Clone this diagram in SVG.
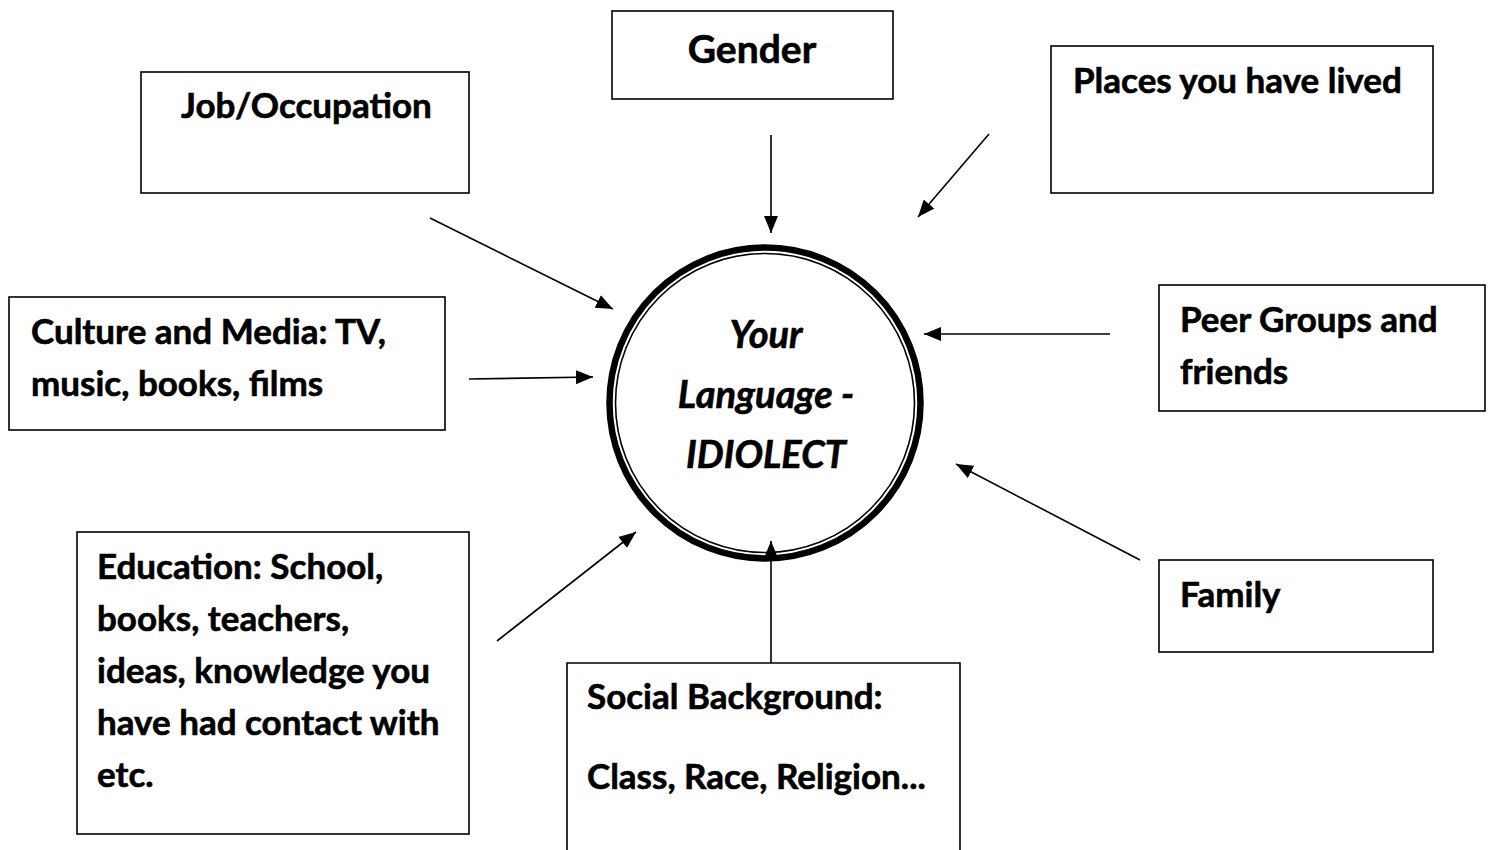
<svg xmlns="http://www.w3.org/2000/svg" width="1493" height="850" viewBox="0 0 1493 850">
  <style>
    .box { fill: #ffffff; stroke: #000000; stroke-width: 1.6; }
    .t { font-family: Lato, "Liberation Sans", sans-serif; font-weight: bold; font-size: 35px; fill: #000000; stroke: #000000; stroke-width: 0.6; }
    .big { font-size: 39px; }
    .ct { font-family: Lato, "Liberation Sans", sans-serif; font-weight: bold; font-style: italic; font-size: 38px; fill: #000000; stroke: #000000; stroke-width: 0.6; text-anchor: middle; }
    .conn { stroke: #000000; stroke-width: 1.6; fill: none; marker-end: url(#arrow); }
  </style>
  <defs>
    <marker id="arrow" markerUnits="userSpaceOnUse" markerWidth="18" markerHeight="14" refX="17" refY="7" orient="auto">
      <path d="M0,0 L17,7 L0,14 z" fill="#000000"/>
    </marker>
  </defs>
  <rect width="1493" height="850" fill="#ffffff"/>

  <g id="idiolect">
    <circle cx="765" cy="403" r="155.5" fill="#ffffff" stroke="#000000" stroke-width="6.5"/>
    <circle cx="765" cy="403" r="149.5" fill="none" stroke="#000000" stroke-width="1.6"/>
    <text class="ct" x="766" y="348">Your</text>
    <text class="ct" x="766" y="408">Language -</text>
    <text class="ct" x="766" y="468">IDIOLECT</text>
  </g>

  <g id="gender">
    <rect class="box" x="612" y="11" width="281" height="88"/>
    <text class="t big" x="752" y="63" text-anchor="middle">Gender</text>
  </g>

  <g id="job">
    <rect class="box" x="141" y="72" width="328" height="121"/>
    <text class="t" x="181" y="118">Job/Occupation</text>
  </g>

  <g id="places">
    <rect class="box" x="1051" y="46" width="382" height="147"/>
    <text class="t" x="1073" y="93">Places you have lived</text>
  </g>

  <g id="culture">
    <rect class="box" x="9" y="297" width="436" height="133"/>
    <text class="t" x="31" y="344">Culture and Media: TV,</text>
    <text class="t" x="31" y="396">music, books, films</text>
  </g>

  <g id="peer">
    <rect class="box" x="1159" y="285" width="326" height="126"/>
    <text class="t" x="1180" y="332">Peer Groups and</text>
    <text class="t" x="1180" y="384">friends</text>
  </g>

  <g id="family">
    <rect class="box" x="1159" y="560" width="274" height="92"/>
    <text class="t" x="1180" y="607">Family</text>
  </g>

  <g id="education">
    <rect class="box" x="77" y="532" width="392" height="302"/>
    <text class="t" x="97" y="579">Education: School,</text>
    <text class="t" x="97" y="631">books, teachers,</text>
    <text class="t" x="97" y="683">ideas, knowledge you</text>
    <text class="t" x="97" y="735">have had contact with</text>
    <text class="t" x="97" y="787">etc.</text>
  </g>

  <g id="social">
    <path class="box" d="M567,851 L567,663 L960,663 L960,851"/>
    <text class="t" x="587" y="709">Social Background:</text>
    <text class="t" x="587" y="789">Class, Race, Religion...</text>
  </g>

  <g id="connectors">
    <line class="conn" x1="771" y1="135" x2="771" y2="233"/>
    <line class="conn" x1="989" y1="134" x2="918" y2="217"/>
    <line class="conn" x1="430" y1="218" x2="613" y2="309"/>
    <line class="conn" x1="469" y1="379" x2="593" y2="377"/>
    <line class="conn" x1="1110" y1="334" x2="924" y2="334"/>
    <line class="conn" x1="1140" y1="560" x2="956" y2="464"/>
    <line class="conn" x1="497" y1="641" x2="636" y2="532"/>
    <line class="conn" x1="771" y1="663" x2="771" y2="541"/>
  </g>
</svg>
